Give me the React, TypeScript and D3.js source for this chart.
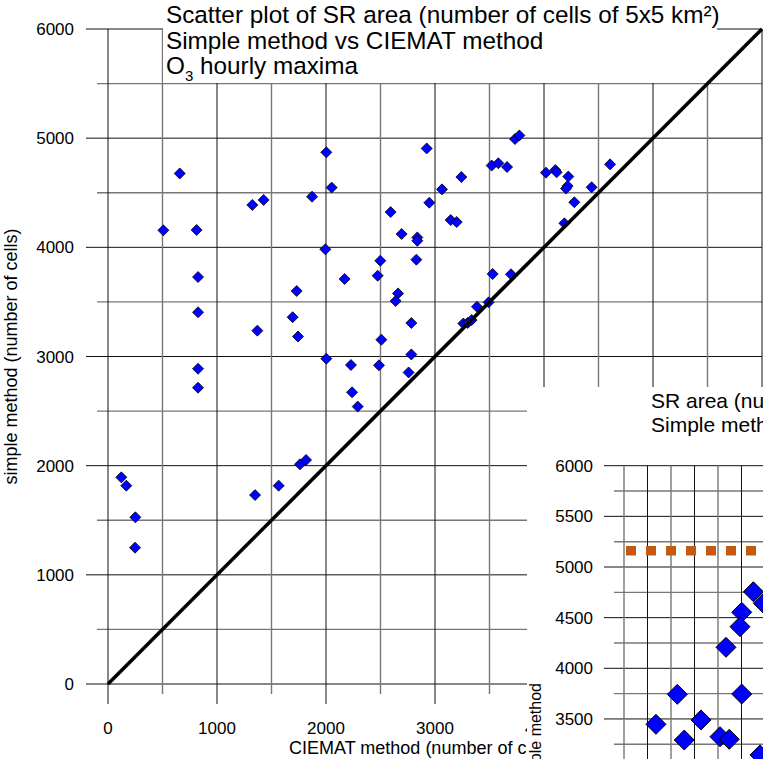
import React, { useEffect, useRef } from 'react';
import * as d3 from 'd3';

// main chart: CIEMAT method (x) vs simple method (y), number of cells
const ciematCells = [
  2003, 658, 2052, 1872, 1428, 1324, 508, 813, 1994, 826, 1731,
  2924, 3734, 3774, 3520, 3581, 3661, 3242, 3064, 2948, 2593, 3144,
  3199, 2694, 2838, 2838, 2498, 2829, 2171, 2474, 2661, 2639, 3529,
  3697, 4018, 4104, 4116, 4223, 4217, 4202, 4437, 4606, 4278, 4187,
  826, 1370, 1694, 1743, 2003, 826, 826, 122, 168, 251, 248,
  1349, 1566, 1761, 1817, 2783, 2508, 2229, 2486, 2783, 2758, 2239,
  2291, 3385, 3492, 3260, 3300, 3336,
];
const simpleCells = [
  4870, 4677, 4547, 4464, 4434, 4388, 4156, 4159, 3982, 3728, 3600,
  4906, 4992, 5025, 4749, 4770, 4736, 4644, 4531, 4409, 4323, 4250,
  4232, 4122, 4091, 4060, 3877, 3887, 3710, 3740, 3578, 3508, 3756,
  3753, 4684, 4708, 4687, 4648, 4562, 4538, 4550, 4760, 4413, 4220,
  3405, 3237, 3360, 3183, 2980, 2888, 2714, 1893, 1817, 1527, 1249,
  1731, 1817, 2012, 2052, 3307, 3154, 2922, 2919, 3019, 2854, 2672,
  2541, 3456, 3496, 3302, 3308, 3334,
];
const axisTicks = [0, 1000, 2000, 3000, 4000, 5000, 6000];
const titleLines = [
  'Scatter plot of SR area (number of cells of 5x5 km\u00b2)',
  'Simple method vs CIEMAT method',
];

// inset (partly outside the picture)
const insetX = [4126, 4232, 4002, 3984, 3835, 3317, 4002, 3090, 3569, 3391, 3771, 3870, 4197];
const insetY = [4756, 4642, 4553, 4411, 4207, 3743, 3746, 3447, 3490, 3292, 3325, 3299, 3145];
const insetTicks = [3500, 4000, 4500, 5000, 5500, 6000];
const insetThreshold = 5160;
const insetTitleLines = ['SR area (number of cells of 5x5 km\u00b2)', 'Simple method vs CIEMAT method'];

const FONT = '"Liberation Sans", Arial, sans-serif';

const diamond = (r: number) => `M0,${-r}L${r},0L0,${r}L${-r},0Z`;

function App() {
  const svgRef = useRef<SVGSVGElement>(null);

  useEffect(() => {
    document.body.style.margin = '0';
    const svg = d3.select(svgRef.current);
    svg.selectAll('*').remove();
    svg.style('font-family', FONT);

    const x = d3.scaleLinear().domain([0, 6000]).range([108, 762]);
    const y = d3.scaleLinear().domain([0, 6000]).range([684, 29]);
    const grid = d3.range(0, 6001, 500);
    const isMajor = (v: number) => v % 1000 === 0;

    const main = svg.append('g');

    main.selectAll('.hgrid')
      .data(grid)
      .enter()
      .append('line')
      .attr('x1', v => (isMajor(v) ? 86 : 97))
      .attr('x2', x(6000))
      .attr('y1', v => y(v))
      .attr('y2', v => y(v))
      .attr('stroke', v => (isMajor(v) ? '#111' : '#777'))
      .attr('stroke-width', v => (isMajor(v) ? 1 : 1.4));

    main.selectAll('.vgrid')
      .data(grid)
      .enter()
      .append('line')
      .attr('x1', v => x(v))
      .attr('x2', v => x(v))
      .attr('y1', y(6000))
      .attr('y2', v => (isMajor(v) ? 704 : 694))
      .attr('stroke', v => (isMajor(v) ? '#111' : '#777'))
      .attr('stroke-width', v => (isMajor(v) ? 1 : 1.4));

    main.selectAll('.ylab')
      .data(axisTicks)
      .enter()
      .append('text')
      .attr('x', 74)
      .attr('y', v => y(v) + 6)
      .attr('text-anchor', 'end')
      .attr('font-size', 17)
      .text(v => v);

    main.selectAll('.xlab')
      .data(axisTicks)
      .enter()
      .append('text')
      .attr('x', v => x(v))
      .attr('y', 734)
      .attr('text-anchor', 'middle')
      .attr('font-size', 17)
      .text(v => v);

    main.selectAll('.pt')
      .data(ciematCells)
      .enter()
      .append('path')
      .attr('d', diamond(5.5))
      .attr('transform', (v, i) => `translate(${x(v)},${y(simpleCells[i])})`)
      .attr('fill', '#0000ff')
      .attr('stroke', '#000')
      .attr('stroke-width', 0.8);

    main.append('text')
      .attr('transform', `translate(17,${(y(0) + y(6000)) / 2}) rotate(-90)`)
      .attr('text-anchor', 'middle')
      .attr('font-size', 18)
      .text('simple method (number of cells)');

    main.append('text')
      .attr('x', 289)
      .attr('y', 754)
      .attr('font-size', 18)
      .text('CIEMAT method (number of cells)');

    // title with white box behind
    main.append('rect')
      .attr('x', 163).attr('y', 0)
      .attr('width', 554).attr('height', 83)
      .attr('fill', '#fff');

    // 1:1 line
    main.append('line')
      .attr('x1', x(0)).attr('y1', y(0))
      .attr('x2', x(6000)).attr('y2', y(6000))
      .attr('stroke', '#000')
      .attr('stroke-width', 3.6);

    titleLines.forEach((t, i) => {
      main.append('text')
        .attr('x', 166)
        .attr('y', 23 + i * 25.5)
        .attr('font-size', 24.3)
        .text(t);
    });
    const o3 = main.append('text').attr('x', 166).attr('y', 74).attr('font-size', 24.3);
    o3.append('tspan').text('O');
    o3.append('tspan').attr('font-size', 15).attr('dy', 7).text('3');
    o3.append('tspan').attr('dy', -7).text(' hourly maxima');

    // inset chart
    const ins = svg.append('g');
    ins.append('rect')
      .attr('x', 527).attr('y', 387)
      .attr('width', 300).attr('height', 420)
      .attr('fill', '#fff');

    const ix = d3.scaleLinear().domain([2750, 4250]).range([624, 765]);
    const iy = d3.scaleLinear().domain([3000, 6000]).range([769.6, 465.7]);
    const iGridY = d3.range(3000, 6001, 250);
    const iGridX = d3.range(2750, 4501, 250);
    const iMajor = (v: number) => v % 500 === 0;

    ins.selectAll('.ihgrid')
      .data(iGridY)
      .enter()
      .append('line')
      .attr('x1', v => (iMajor(v) ? 604 : 614))
      .attr('x2', 800)
      .attr('y1', v => iy(v))
      .attr('y2', v => iy(v))
      .attr('stroke', v => (iMajor(v) ? '#111' : '#777'))
      .attr('stroke-width', v => (iMajor(v) ? 1 : 1.4));

    ins.selectAll('.ivgrid')
      .data(iGridX)
      .enter()
      .append('line')
      .attr('x1', v => ix(v))
      .attr('x2', v => ix(v))
      .attr('y1', iy(6000))
      .attr('y2', 800)
      .attr('stroke', v => (iMajor(v) ? '#111' : '#777'))
      .attr('stroke-width', v => (iMajor(v) ? 1 : 1.4));

    ins.selectAll('.iylab')
      .data(insetTicks)
      .enter()
      .append('text')
      .attr('x', 593)
      .attr('y', v => iy(v) + 6)
      .attr('text-anchor', 'end')
      .attr('font-size', 17)
      .text(v => v);

    ins.append('line')
      .attr('x1', ix(2750) + 2).attr('x2', 800)
      .attr('y1', iy(insetThreshold)).attr('y2', iy(insetThreshold))
      .attr('stroke', '#c55a11')
      .attr('stroke-width', 9.5)
      .attr('stroke-dasharray', '10,10');

    ins.selectAll('.ipt')
      .data(insetX)
      .enter()
      .append('path')
      .attr('d', diamond(10))
      .attr('transform', (v, i) => `translate(${ix(v)},${iy(insetY[i])})`)
      .attr('fill', '#0000ff')
      .attr('stroke', '#000')
      .attr('stroke-width', 1);

    insetTitleLines.forEach((t, i) => {
      ins.append('text')
        .attr('x', 651)
        .attr('y', 408 + i * 24)
        .attr('font-size', 21)
        .text(t);
    });

    ins.append('text')
      .attr('transform', 'translate(541,683) rotate(-90)')
      .attr('text-anchor', 'end')
      .attr('font-size', 16)
      .text('simple method');
  }, []);

  return <svg ref={svgRef} width={763} height={759} style={{ display: 'block', background: '#fff' }}></svg>;
}

export default App;
